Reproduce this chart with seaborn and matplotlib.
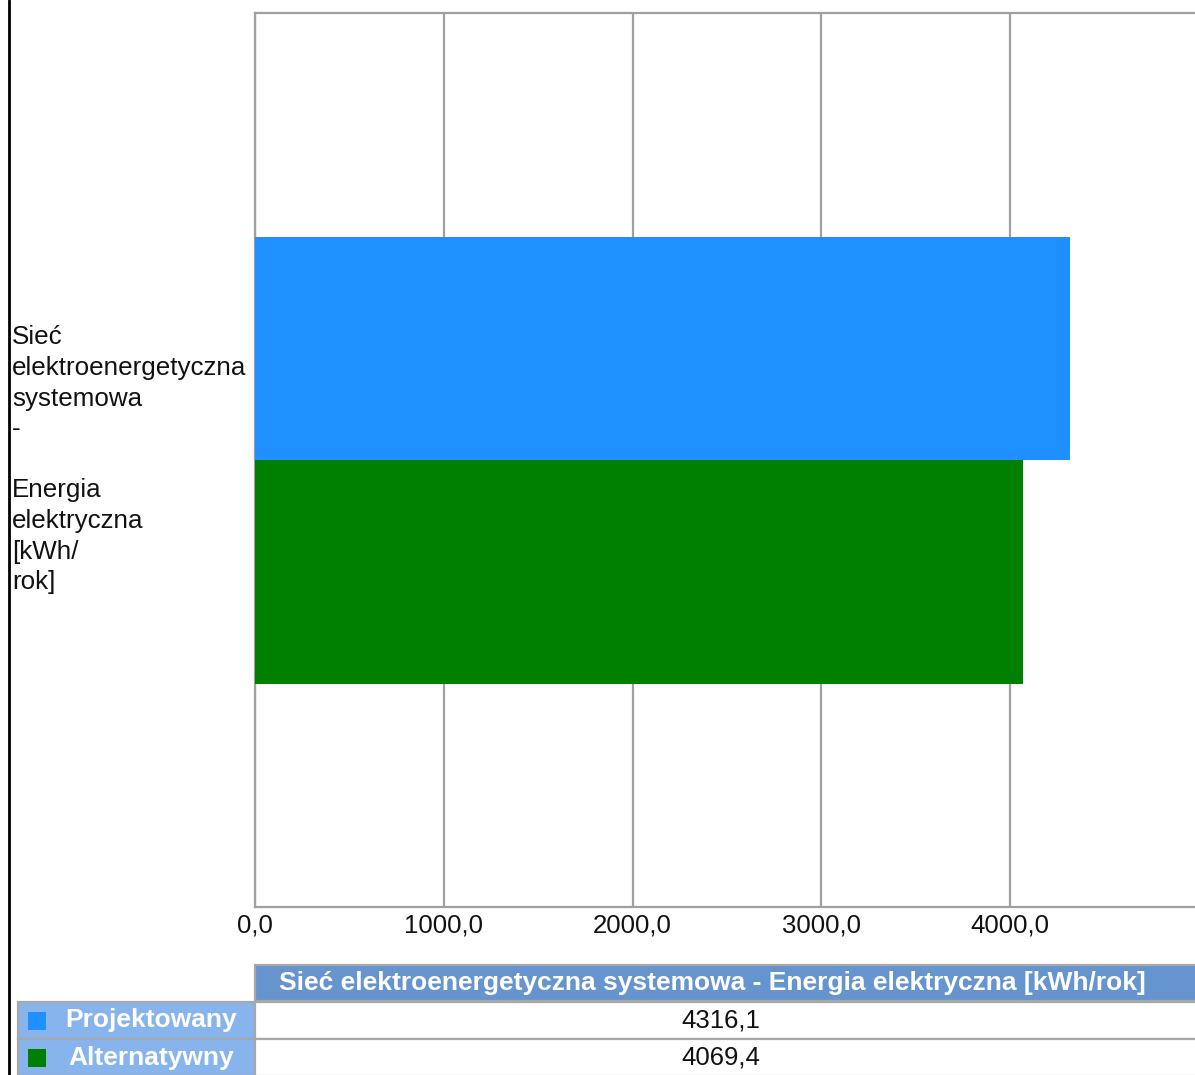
import matplotlib
matplotlib.use("Agg")
import matplotlib.pyplot as plt
from matplotlib.patches import Rectangle
from matplotlib.ticker import FuncFormatter
from matplotlib.transforms import ScaledTranslation
import pandas as pd
import seaborn as sns

# --- data -------------------------------------------------------------
category = "Sieć elektroenergetyczna systemowa - Energia elektryczna [kWh/rok]"
category_wrapped = ("Sieć\nelektroenergetyczna\nsystemowa\n-\n\n"
                    "Energia\nelektryczna\n[kWh/\nrok]")
series = ["Projektowany", "Alternatywny"]
values = [4316.1, 4069.4]
colors = ["#1e90ff", "#008000"]
x_ticks = [0, 1000, 2000, 3000, 4000]

df = pd.DataFrame({"kategoria": [category] * len(series),
                   "wariant": series,
                   "wartosc": values})

sns.set_theme(style="white")
plt.rcParams["font.family"] = ["Liberation Sans", "DejaVu Sans"]

W, H = 1195, 1075
fig = plt.figure(figsize=(W / 100, H / 100), dpi=100)
fig.patch.set_facecolor("white")

# plot area in pixel terms
left_px, top_px, bottom_px = 255, 13, 907
px_per_unit = 188.75 / 1000
xmax = 5000
ax = fig.add_axes([left_px / W, 1 - bottom_px / H,
                   xmax * px_per_unit / W, (bottom_px - top_px) / H])

sns.barplot(data=df, x="wartosc", y="kategoria", hue="wariant",
            palette=colors, orient="h", width=0.5, dodge=True,
            saturation=1, ax=ax, legend=False, zorder=3)
for p in ax.patches:
    p.set_edgecolor("none")

ax.set_xlim(0, xmax)
ax.set_ylim(0.5, -0.5)
ax.set_xticks(x_ticks)
ax.xaxis.set_major_formatter(FuncFormatter(lambda v, _: f"{v:.1f}".replace(".", ",")))
ax.grid(axis="x", color="#a0a0a0", linewidth=1.6, zorder=0)
ax.set_axisbelow(True)
for side in ["top", "left", "bottom", "right"]:
    ax.spines[side].set_color("#a0a0a0")
    ax.spines[side].set_linewidth(1.6)
ax.set_xlabel("")
ax.set_ylabel("")
ax.tick_params(axis="x", length=0, pad=5, labelsize=18.5, labelcolor="#111111")
ax.set_yticks([0])
ax.set_yticklabels([category_wrapped])
ax.tick_params(axis="y", length=0, pad=175, labelsize=18.7, labelcolor="#111111")
for lbl in ax.get_yticklabels():
    lbl.set_horizontalalignment("left")
    lbl.set_linespacing(1.35)
    lbl.set_transform(lbl.get_transform()
                      + ScaledTranslation(0, 6 / 100, fig.dpi_scale_trans))

# --- data table under the chart ---------------------------------------
tab = fig.add_axes([0, 0, 1, 1], facecolor="none")
tab.set_xlim(0, W)
tab.set_ylim(H, 0)
tab.axis("off")

grid_c = "#a8a8a8"
header_c = "#6694cf"
label_c = "#88b4ee"
cell_right = 1200

# header
tab.add_patch(Rectangle((left_px, 965), cell_right - left_px, 36,
                        facecolor=header_c, edgecolor=grid_c, linewidth=1.6))
tab.text(712, 983, category, color="white", fontsize=19,
         fontweight="bold", ha="center", va="center")

row_tops = [1002, 1039]
row_h = 37
for top, name, col, val in zip(row_tops, series, colors, values):
    tab.add_patch(Rectangle((18, top), left_px - 18, row_h,
                            facecolor=label_c, edgecolor=grid_c, linewidth=1.6))
    tab.add_patch(Rectangle((28, top + 10), 18, 18, facecolor=col,
                            edgecolor="none"))
    tab.text(151, top + row_h / 2, name, color="white", fontsize=19,
             fontweight="bold", ha="center", va="center")
    tab.add_patch(Rectangle((left_px, top), cell_right - left_px, row_h,
                            facecolor="white", edgecolor=grid_c, linewidth=1.6))
    tab.text(721, top + row_h / 2,
             f"{val:.1f}".replace(".", ","), color="#111111", fontsize=18.5,
             ha="center", va="center")

# frame line on the left edge
tab.plot([9, 9], [0, H], color="black", linewidth=2)

fig.savefig("out.png", dpi=100, facecolor="white")
